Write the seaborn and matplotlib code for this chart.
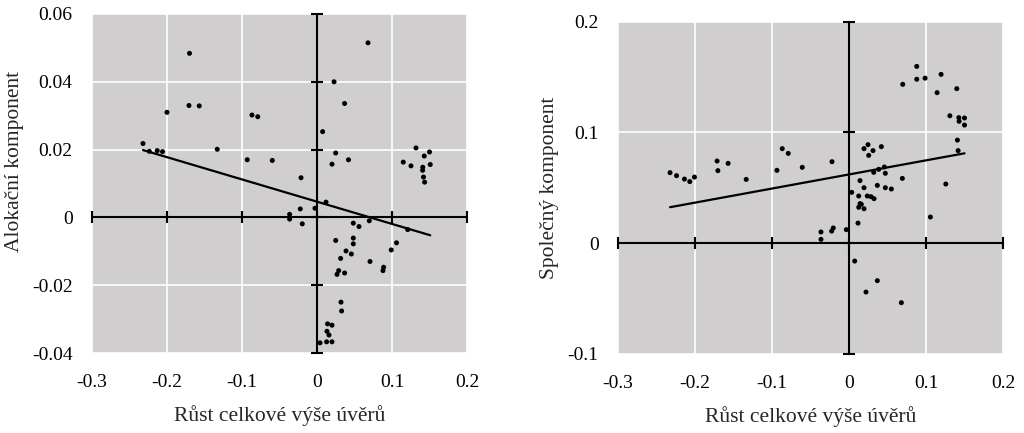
import matplotlib
matplotlib.use("Agg")
import matplotlib.pyplot as plt
import seaborn as sns
import pandas as pd

# ---- data -------------------------------------------------------------
alloc_x = [-0.170, 0.068, 0.0227, 0.0368, -0.1707, -0.157, -0.200, -0.0867, -0.079, 0.0075,
           -0.232, -0.2236, -0.213, -0.206, -0.133, -0.093, -0.0596, -0.0213, 0.0249, 0.020,
           0.042, 0.132, 0.150, 0.143, 0.115, 0.1253, 0.151, 0.141, 0.1408, 0.142,
           0.1435, 0.012, -0.0027, -0.0223, -0.0365, -0.0365, -0.0196, 0.0484, 0.056, 0.0697,
           0.1209, 0.0249, 0.0484, 0.0484, 0.106, 0.099, 0.0387, 0.0458, 0.0315, 0.0707,
           0.0888, 0.088, 0.0289, 0.0267, 0.0368, 0.032, 0.0328, 0.0141, 0.020, 0.0133,
           0.016, 0.004, 0.0128, 0.020]
alloc_y = [0.0484, 0.0515, 0.0400, 0.0336, 0.0330, 0.0329, 0.0310, 0.0302, 0.0297, 0.0253,
           0.0218, 0.0195, 0.0197, 0.0194, 0.0201, 0.0170, 0.0168, 0.0117, 0.0190, 0.0157,
           0.0170, 0.0205, 0.0193, 0.0181, 0.0163, 0.0152, 0.0156, 0.0148, 0.0139, 0.0119,
           0.0104, 0.0045, 0.0027, 0.0025, 0.0009, -0.0005, -0.0019, -0.0017, -0.0027, -0.0010,
           -0.0036, -0.0068, -0.0061, -0.0078, -0.0075, -0.0096, -0.0099, -0.0108, -0.0121, -0.0130,
           -0.0147, -0.0157, -0.0157, -0.0168, -0.0164, -0.0250, -0.0276, -0.0314, -0.0318, -0.0336,
           -0.0347, -0.0370, -0.0367, -0.0367]

common_x = [0.088, 0.0698, 0.088, 0.0988, 0.1196, 0.1144, 0.140, 0.131, 0.1426, 0.150,
            0.143, 0.150, 0.1408, 0.1417, 0.1257, 0.0693, 0.0195, 0.0247, 0.0312, 0.0256,
            0.042, 0.0459, 0.0386, 0.0321, 0.0472, 0.0143, 0.0195, 0.0368, 0.0472, 0.055,
            0.0035, 0.0126, 0.0238, 0.0286, 0.0325, -0.0221, -0.0607, -0.0936, -0.0867, -0.0789,
            -0.1335, -0.1713, -0.157, -0.1703, -0.2324, -0.224, -0.2137, -0.2068, -0.2007, 0.0143,
            0.016, 0.0126, 0.0195, 0.0117, 0.1057, -0.0035, -0.0204, -0.0225, -0.0364, -0.0364,
            0.0074, 0.0368, 0.0221, 0.068]
common_y = [0.1596, 0.1434, 0.148, 0.149, 0.1524, 0.1359, 0.1395, 0.115, 0.1133, 0.113,
            0.110, 0.1066, 0.093, 0.0835, 0.0533, 0.0584, 0.0853, 0.0889, 0.0835, 0.0792,
            0.0871, 0.0687, 0.0666, 0.0639, 0.063, 0.0564, 0.050, 0.0521, 0.050, 0.0488,
            0.0458, 0.0425, 0.0425, 0.0419, 0.0401, 0.0735, 0.0684, 0.0657, 0.0853, 0.081,
            0.0575, 0.0741, 0.072, 0.0654, 0.0636, 0.0609, 0.0578, 0.0555, 0.0596, 0.0356,
            0.035, 0.0323, 0.031, 0.018, 0.0235, 0.0121, 0.0136, 0.0108, 0.010, 0.0033,
            -0.0163, -0.034, -0.0443, -0.0539]

x_ticks = [-0.3, -0.2, -0.1, 0, 0.1, 0.2]
x_tick_labels = ["-0.3", "-0.2", "-0.1", "0", "0.1", "0.2"]
alloc_ticks = [-0.04, -0.02, 0, 0.02, 0.04, 0.06]
alloc_tick_labels = ["-0.04", "-0.02", "0", "0.02", "0.04", "0.06"]
common_ticks = [-0.1, 0, 0.1, 0.2]
common_tick_labels = ["-0.1", "0", "0.1", "0.2"]

x_label = "Růst celkové výše úvěrů"
alloc_label = "Alokační komponent"
common_label = "Společný komponent"

# ---- style ------------------------------------------------------------
sns.set_theme(style="white")
plt.rcParams["font.family"] = ["Liberation Serif", "DejaVu Serif"]
plt.rcParams["axes.unicode_minus"] = False

BG = "#D0CECE"
TICK_FS = 14
LABEL_FS = 15.5

fig = plt.figure(figsize=(10.24, 4.33), dpi=100)
ax1 = fig.add_axes([92 / 1024, 1 - 353 / 433, 375 / 1024, 339 / 433])
ax2 = fig.add_axes([618 / 1024, 1 - 353.7 / 433, 385 / 1024, 332 / 433])


def style_panel(ax, xs, ys, yticks, ylabels, ylabel, ylabel_pos, xlabel_y):
    df = pd.DataFrame({"x": xs, "y": ys})
    ax.set_facecolor(BG)
    for s in ax.spines.values():
        s.set_visible(False)
    ax.set_xlim(x_ticks[0], x_ticks[-1])
    ax.set_ylim(yticks[0], yticks[-1])
    ax.set_xticks(x_ticks)
    ax.set_xticklabels(x_tick_labels)
    ax.set_yticks(yticks)
    ax.set_yticklabels(ylabels)
    ax.grid(True, color="white", linewidth=1.2, zorder=0)
    ax.set_axisbelow(True)
    ax.tick_params(axis="both", length=0, labelsize=TICK_FS, colors="black")
    ax.tick_params(axis="y", pad=14)
    ax.tick_params(axis="x", pad=15)
    # zero axes with cross ticks
    ax.axhline(0, color="black", linewidth=1.5, zorder=2)
    ax.axvline(0, color="black", linewidth=1.5, zorder=2)
    ax.plot(x_ticks, [0] * len(x_ticks), ls="", marker="|", ms=9, mew=1.5,
            color="black", clip_on=False, zorder=2)
    ax.plot([0] * len(yticks), yticks, ls="", marker="_", ms=9, mew=1.5,
            color="black", clip_on=False, zorder=2)
    sns.scatterplot(data=df, x="x", y="y", ax=ax, color="black", s=13,
                    edgecolor="none", zorder=3)
    sns.regplot(data=df, x="x", y="y", ax=ax, scatter=False, ci=None,
                line_kws={"color": "black", "linewidth": 1.6, "zorder": 3})
    ax.set_xlabel(x_label, fontsize=LABEL_FS)
    ax.set_ylabel(ylabel, fontsize=LABEL_FS)
    ax.xaxis.set_label_coords(0.5, xlabel_y)
    ax.yaxis.set_label_coords(*ylabel_pos)
    ax.set_xlim(x_ticks[0], x_ticks[-1])
    ax.set_ylim(yticks[0], yticks[-1])


style_panel(ax1, alloc_x, alloc_y, alloc_ticks, alloc_tick_labels, alloc_label,
            (-0.18, 0.565), -0.155)
style_panel(ax2, common_x, common_y, common_ticks, common_tick_labels, common_label,
            (-0.152, 0.5), -0.157)

fig.savefig("out.png", dpi=100)
